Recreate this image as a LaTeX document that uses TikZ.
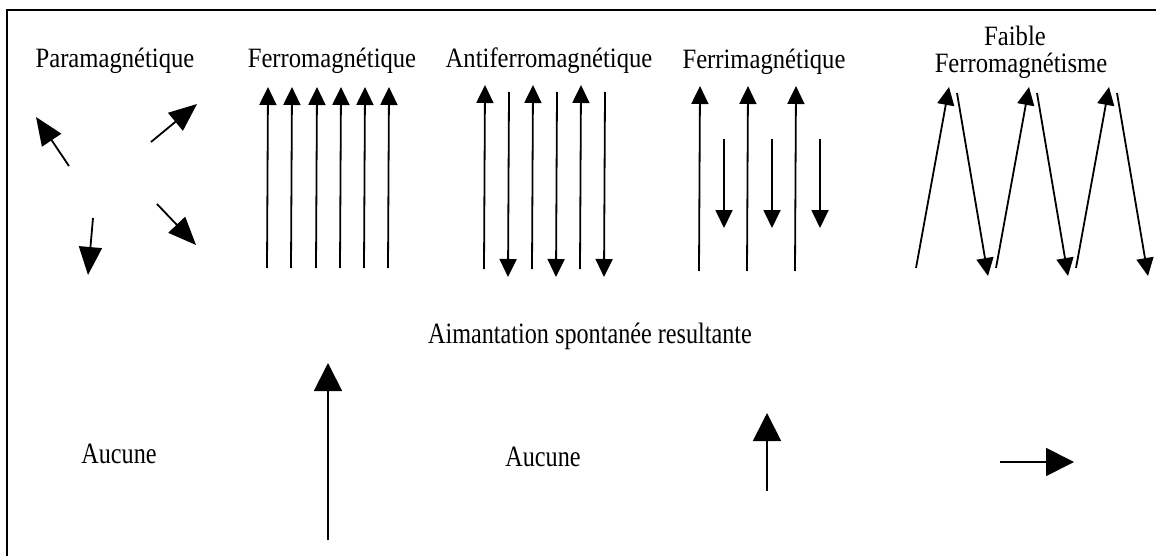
\documentclass[tikz,border=0pt]{standalone}
\usepackage{fontspec}
\setmainfont{Liberation Serif}
\newfontfamily\titlefont[FakeStretch=0.88]{Liberation Serif}
\newfontfamily\resfont[FakeStretch=0.82]{Liberation Serif}
\usetikzlibrary{arrows.meta}
\tikzset{
  spin/.style={-{Triangle[length=9pt,width=8.5pt]},line width=0.9pt},
  bigspin/.style={-{Triangle[length=14pt,width=11.5pt]},line width=0.9pt},
  netspin/.style={-{Triangle[length=14pt,width=14pt]},line width=0.9pt},
  lab/.style={font=\titlefont\fontsize{14}{15}\selectfont,inner sep=0pt,anchor=base},
  reslab/.style={font=\resfont\fontsize{14.75}{16}\selectfont,inner sep=0pt,anchor=base},
}
\begin{document}
\begin{tikzpicture}[x=0.5pt,y=-0.5pt]
  \useasboundingbox (0,0) rectangle (1156,556);
  \draw[line width=1pt] (7,556) -- (7,10) -- (1156,10);
  % titles
  \node[lab] (para) at (115,68) {Paramagnétique};
  \node[lab] (ferro) at (332,68) {Ferromagnétique};
  \node[lab] (antif) at (549,68) {Antiferromagnétique};
  \node[lab] (ferri) at (764,69) {Ferrimagnétique};
  \node[lab] (faibA) at (1015,46) {Faible};
  \node[lab] (faibB) at (1021,73) {Ferromagnétisme};
  % spins
  \draw[bigspin] (69,166) -- (36,117);
  \draw[bigspin] (151,142) -- (197,104);
  \draw[bigspin] (93,218) -- (88,275);
  \draw[bigspin] (157,204) -- (196,245);
  \foreach \x in {267,291,316,340,364,388}
    \draw[spin] (\x,268) -- (\x+1,87);
  \foreach \x in {484,532,580}{
    \draw[spin] (\x,269) -- (\x+1,85);
    \draw[spin] (\x+25,92) -- (\x+24,277);}
  \foreach \x in {699,747,795}{
    \draw[spin] (\x,271) -- (\x+1,86);
    \draw[spin] (\x+25,139) -- (\x+25,228);}
  \foreach \x in {0,80,160}{
    \draw[spin] (916+\x,268) -- (949+\x,87);
    \draw[spin] (957+\x,93) -- (988+\x,276);}
  % resultante
  \node[reslab] (aim) at (590,343) {Aimantation spontanée resultante};
  \node[reslab] (auc1) at (119,463) {Aucune};
  \node[reslab] (auc2) at (543,466) {Aucune};
  \draw[netspin] (328,540) -- (328,363);
  \draw[netspin] (767,491) -- (767,413);
  \draw[netspin] (1000,462) -- (1074,462);
\end{tikzpicture}
\end{document}
